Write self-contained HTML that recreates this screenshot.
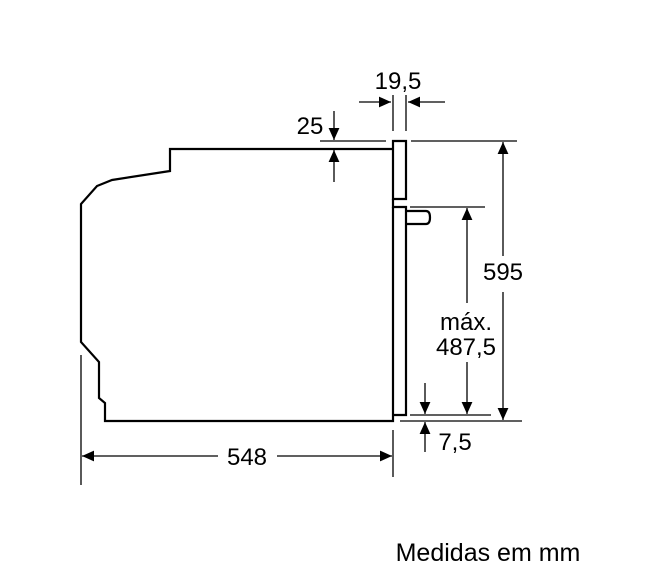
<!DOCTYPE html>
<html><head><style>body{margin:0;background:#fff}svg{display:block}text{font-family:"Liberation Sans",Arial,sans-serif;fill:#000}</style></head>
<body>
<svg width="649" height="585" viewBox="0 0 649 585">
<defs>
<marker id="b" viewBox="0 0 10 10" refX="10" refY="5" markerWidth="14" markerHeight="12" markerUnits="userSpaceOnUse" orient="auto"><path d="M0,0.5L10,5L0,9.5z"/></marker>
</defs>
<g fill="none" stroke="#000" stroke-width="2.2">
<path d="M393,149H170V171L112,180L97,186L81,204V342L99,362V398L105,403V421H393V207"/>
<path d="M393,141H406V199H393Z"/>
<path d="M393,199V207H406V415H393"/>
<path d="M406,211H426Q430,211 430,217.5Q430,224 426,224H406"/>
</g>
<g stroke="#000" stroke-width="1.3" fill="none">
<line x1="320" y1="141" x2="386" y2="141"/>
<line x1="411" y1="141" x2="517" y2="141"/>
<line x1="410" y1="207" x2="485" y2="207"/>
<line x1="410" y1="415" x2="491" y2="415"/>
<line x1="400" y1="421" x2="522" y2="421"/>
<line x1="393" y1="95" x2="393" y2="131"/>
<line x1="406" y1="95" x2="406" y2="131"/>
<line x1="81" y1="355" x2="81" y2="485"/>
<line x1="393" y1="430" x2="393" y2="477"/>
<line x1="359" y1="102" x2="391" y2="102" marker-end="url(#b)"/>
<line x1="445" y1="102" x2="408" y2="102" marker-end="url(#b)"/>
<line x1="334" y1="111" x2="334" y2="140" marker-end="url(#b)"/>
<line x1="334" y1="182" x2="334" y2="150" marker-end="url(#b)"/>
<line x1="503" y1="256" x2="503" y2="142" marker-end="url(#b)"/>
<line x1="503" y1="292" x2="503" y2="420" marker-end="url(#b)"/>
<line x1="467" y1="303" x2="467" y2="208" marker-end="url(#b)"/>
<line x1="467" y1="362" x2="467" y2="414" marker-end="url(#b)"/>
<line x1="425" y1="383" x2="425" y2="414" marker-end="url(#b)"/>
<line x1="425" y1="452" x2="425" y2="422" marker-end="url(#b)"/>
<line x1="218" y1="456" x2="82" y2="456" marker-end="url(#b)"/>
<line x1="277" y1="456" x2="392" y2="456" marker-end="url(#b)"/>
</g>
<g font-size="24">
<text x="398" y="89" text-anchor="middle">19,5</text>
<text x="310" y="134" text-anchor="middle">25</text>
<text x="503" y="280" text-anchor="middle">595</text>
<text x="466" y="330" text-anchor="middle">máx.</text>
<text x="466" y="355" text-anchor="middle">487,5</text>
<text x="455" y="450" text-anchor="middle">7,5</text>
<text x="247" y="465" text-anchor="middle">548</text>
<text x="488" y="561" text-anchor="middle" font-size="25">Medidas em mm</text>
</g>
</svg>
</body></html>
